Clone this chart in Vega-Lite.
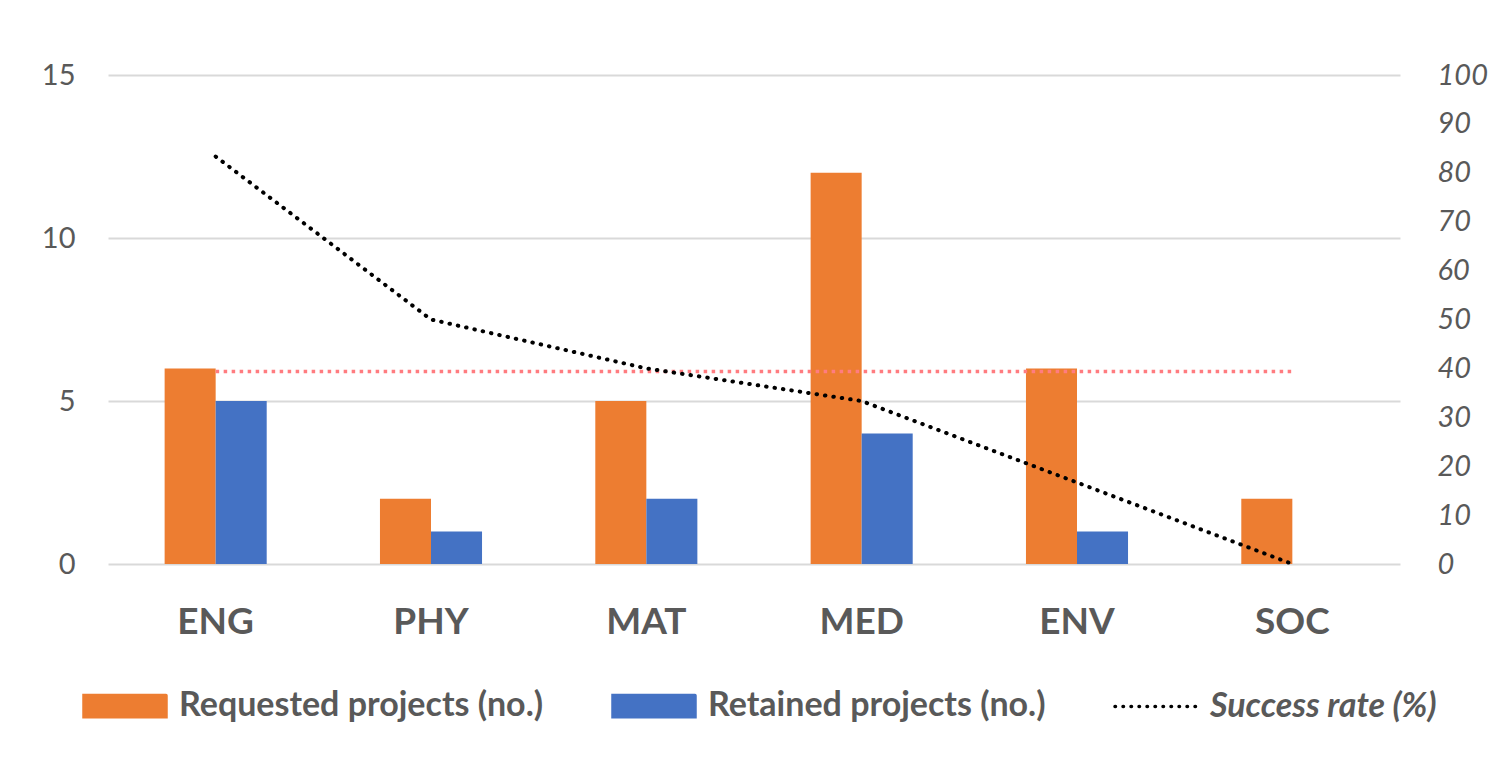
{
  "$schema": "https://vega.github.io/schema/vega-lite/v6.json",
  "width": 1292,
  "height": 489,
  "autosize": {"type": "none"},
  "padding": {"left": 108, "top": 75, "right": 98, "bottom": 205},
  "background": "white",
  "config": {"font": "Lato", "view": {"stroke": null}},
  "datasets": {
    "bars": [
      {"cat": "ENG", "series": "Requested projects (no.)", "value": 6},
      {"cat": "ENG", "series": "Retained projects (no.)", "value": 5},
      {"cat": "PHY", "series": "Requested projects (no.)", "value": 2},
      {"cat": "PHY", "series": "Retained projects (no.)", "value": 1},
      {"cat": "MAT", "series": "Requested projects (no.)", "value": 5},
      {"cat": "MAT", "series": "Retained projects (no.)", "value": 2},
      {"cat": "MED", "series": "Requested projects (no.)", "value": 12},
      {"cat": "MED", "series": "Retained projects (no.)", "value": 4},
      {"cat": "ENV", "series": "Requested projects (no.)", "value": 6},
      {"cat": "ENV", "series": "Retained projects (no.)", "value": 1},
      {"cat": "SOC", "series": "Requested projects (no.)", "value": 2},
      {"cat": "SOC", "series": "Retained projects (no.)", "value": 0}
    ],
    "rates": [
      {"cat": "ENG", "rate": 83.33, "avg": 39.39},
      {"cat": "PHY", "rate": 50, "avg": 39.39},
      {"cat": "MAT", "rate": 40, "avg": 39.39},
      {"cat": "MED", "rate": 33.33, "avg": 39.39},
      {"cat": "ENV", "rate": 16.67, "avg": 39.39},
      {"cat": "SOC", "rate": 0, "avg": 39.39}
    ]
  },
  "layer": [
    {
      "data": {"name": "bars"},
      "mark": {"type": "bar"},
      "encoding": {
        "x": {
          "field": "cat", "type": "nominal",
          "sort": ["ENG", "PHY", "MAT", "MED", "ENV", "SOC"],
          "scale": {"paddingInner": 0.526, "paddingOuter": 0.263},
          "axis": {"title": null, "labelFont": "Lato", "labelFontSize": 37, "labelFontWeight": "bold", "labelColor": "#595959", "ticks": false, "domain": false, "labelPadding": 40, "labelAngle": 0}
        },
        "xOffset": {"field": "series", "type": "nominal", "scale": {"domain": ["Requested projects (no.)", "Retained projects (no.)"], "paddingInner": 0, "paddingOuter": 0}},
        "y": {
          "field": "value", "type": "quantitative",
          "scale": {"domain": [0, 15]},
          "axis": {"title": null, "values": [0, 5, 10, 15], "labelFontSize": 29, "labelColor": "#595959", "ticks": false, "domain": false, "grid": true, "gridColor": "#D9D9D9", "gridWidth": 2, "labelPadding": 33}
        },
        "color": {
          "field": "series", "type": "nominal",
          "scale": {"domain": ["Requested projects (no.)", "Retained projects (no.)", "Success rate (%)"], "range": ["#ED7D31", "#4472C4", "#000000"]},
          "legend": {
            "orient": "none", "legendX": -26, "legendY": 588, "direction": "horizontal", "title": null,
            "symbolType": "M-1,-0.26H1V0.26H-1Z", "symbolSize": 6724,
            "labelFontSize": 34, "labelFontWeight": "bold", "labelColor": "#595959", "labelOffset": 11, "columnPadding": 62, "labelLimit": 0,
            "encode": {
              "symbols": {"update": {
                "shape": {"signal": "datum.value === 'Success rate (%)' ? 'M-1,0H1' : 'M-1,-0.26H1V0.26H-1Z'"},
                "fill": {"signal": "datum.value === 'Requested projects (no.)' ? '#ED7D31' : datum.value === 'Retained projects (no.)' ? '#4472C4' : 'transparent'"},
                "stroke": {"signal": "datum.value === 'Success rate (%)' ? '#000000' : 'transparent'"},
                "strokeWidth": {"value": 3.5},
                "strokeCap": {"value": "round"},
                "strokeDash": {"signal": "datum.value === 'Success rate (%)' ? [0.5, 7.5] : [1, 0]"},
                "opacity": {"value": 1}
              }},
              "labels": {"update": {
                "fontStyle": {"signal": "datum.value === 'Success rate (%)' ? 'italic' : 'normal'"}
              }}
            }
          }
        }
      }
    },
    {
      "data": {"name": "rates"},
      "mark": {"type": "line", "color": "#FF7C80", "strokeWidth": 3.5, "strokeDash": [3.5, 4.5]},
      "encoding": {
        "x": {"field": "cat", "type": "nominal", "sort": ["ENG", "PHY", "MAT", "MED", "ENV", "SOC"]},
        "y": {"field": "avg", "type": "quantitative", "scale": {"domain": [0, 100]}, "axis": null}
      }
    },
    {
      "data": {"name": "rates"},
      "mark": {"type": "line", "strokeWidth": 4, "strokeDash": [0.5, 8], "strokeCap": "round"},
      "encoding": {
        "x": {"field": "cat", "type": "nominal", "sort": ["ENG", "PHY", "MAT", "MED", "ENV", "SOC"]},
        "y": {
          "field": "rate", "type": "quantitative", "scale": {"domain": [0, 100]},
          "axis": {"orient": "right", "title": null, "values": [0, 10, 20, 30, 40, 50, 60, 70, 80, 90, 100], "labelFontSize": 29, "labelFontStyle": "italic", "labelColor": "#595959", "ticks": false, "domain": false, "grid": false, "labelPadding": 37}
        },
        "color": {"datum": "Success rate (%)"}
      }
    }
  ],
  "resolve": {"scale": {"y": "independent"}}
}
